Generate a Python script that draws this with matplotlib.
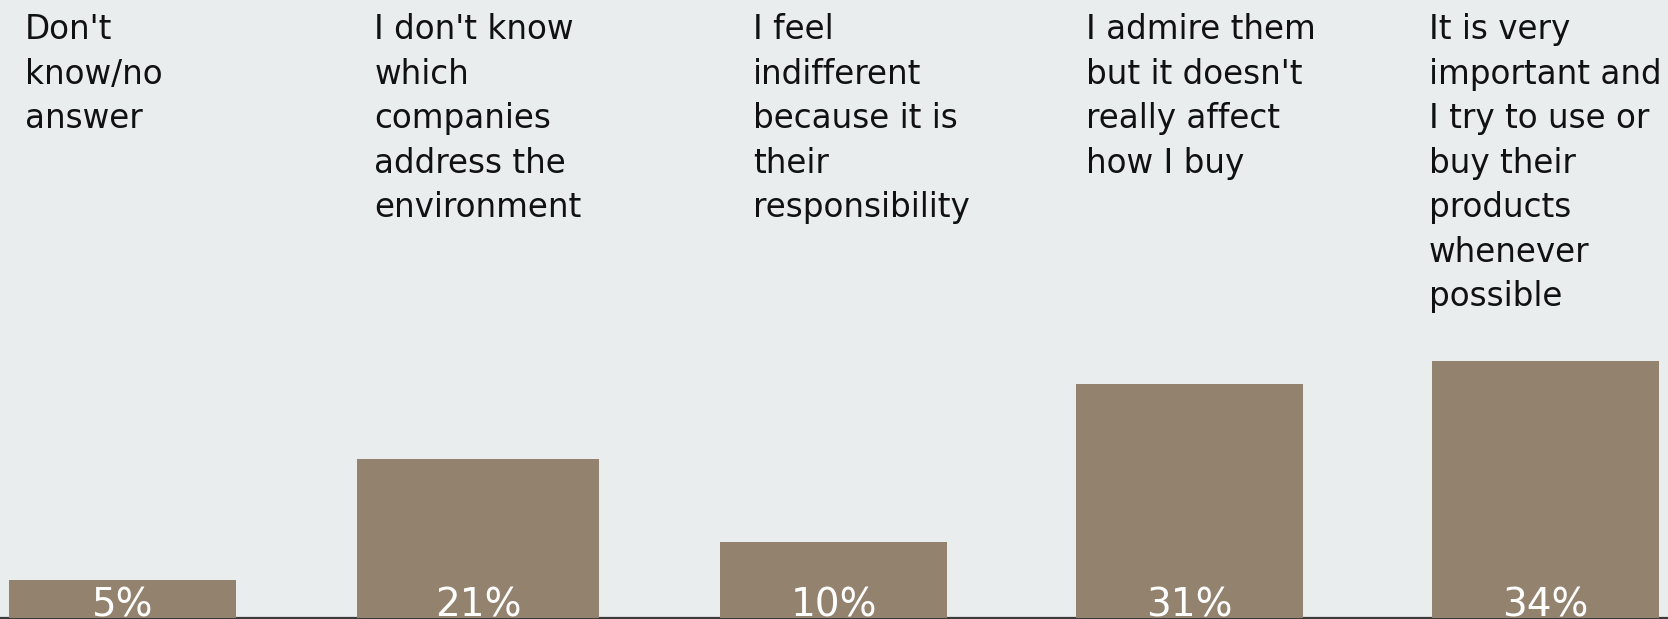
import matplotlib
matplotlib.use("Agg")
import matplotlib.pyplot as plt
import numpy as np

# ---- data ----
categories = [
    "Don't\nknow/no\nanswer",
    "I don't know\nwhich\ncompanies\naddress the\nenvironment",
    "I feel\nindifferent\nbecause it is\ntheir\nresponsibility",
    "I admire them\nbut it doesn't\nreally affect\nhow I buy",
    "It is very\nimportant and\nI try to use or\nbuy their\nproducts\nwhenever\npossible",
]
values = [5, 21, 10, 31, 34]
value_labels = ["5%", "21%", "10%", "31%", "34%"]

# ---- layout / style ----
W, H, DPI = 1668, 619, 100
BG = "#E9EDEE"
BAR = "#93826E"
bar_widths = [0.638, 0.680, 0.638, 0.638, 0.638]
label_dx = [-0.273, -0.292, -0.228, -0.291, -0.327]  # label left offset from bar centre (data units)

fig = plt.figure(figsize=(W / DPI, H / DPI), dpi=DPI, facecolor=BG)
ax = fig.add_axes([0, 1.5 / H, 1, (H - 1.5) / H])
ax.set_facecolor(BG)

x = np.arange(len(values))
ax.bar(x, values, width=bar_widths, color=BAR, zorder=2)

ax.set_xlim(-0.3435, 4.3445)
ax.set_ylim(0, (H - 1.5) / 7.53)

for s in ["top", "right", "left"]:
    ax.spines[s].set_visible(False)
ax.spines["bottom"].set_color("#3a3a3a")
ax.spines["bottom"].set_linewidth(1.6)
ax.spines["bottom"].set_zorder(1)
ax.set_xticks([])
ax.set_yticks([])

# value labels inside bars at the bottom
for xi, lab in zip(x, value_labels):
    ax.text(xi, 0.15, lab, ha="center", va="baseline", color="white",
            fontsize=28, family="DejaVu Sans", zorder=3)

# category labels at top
for xi, dx, cat in zip(x, label_dx, categories):
    ax.text(xi + dx, 1 - 13.5 / H, cat, transform=ax.get_xaxis_transform(),
            ha="left", va="top", color="#111111", fontsize=23.5,
            family="DejaVu Sans", linespacing=1.44)

fig.savefig("out.png", dpi=DPI, facecolor=BG)
